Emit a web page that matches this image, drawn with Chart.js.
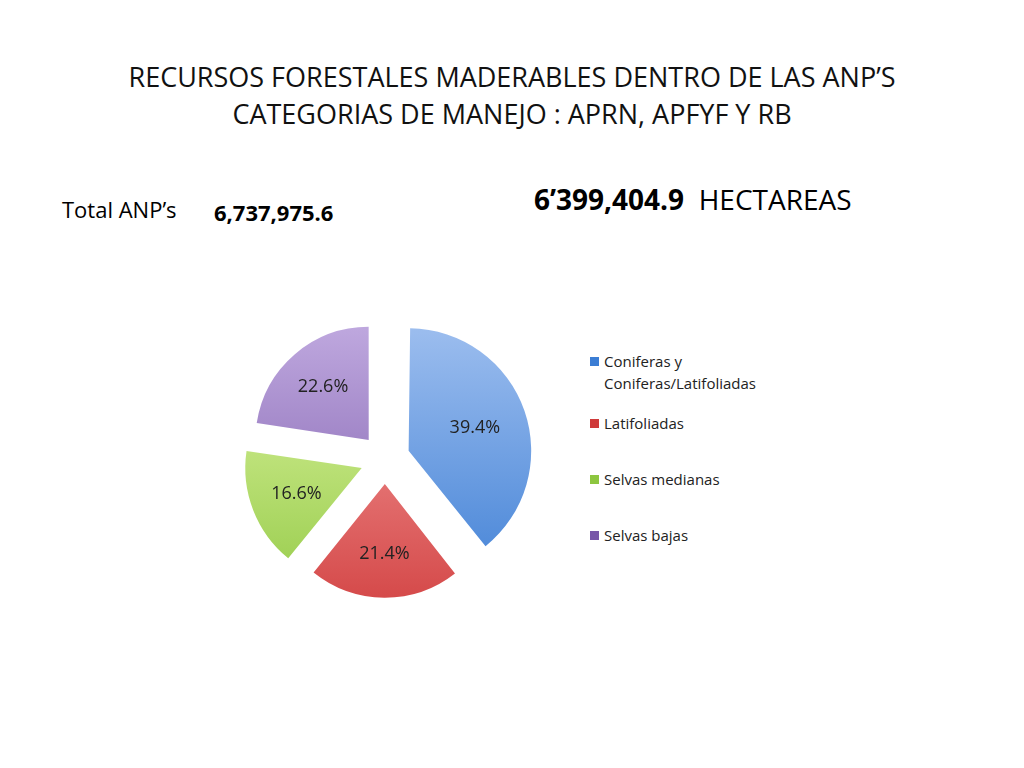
<!DOCTYPE html>
<html><head><meta charset="utf-8">
<script src="https://cdn.jsdelivr.net/npm/chart.js@4"></script>
<style>
body{margin:0;width:1024px;height:768px;background:#fff;font-family:"Open Sans","Liberation Sans",sans-serif;position:relative;overflow:hidden}
.t{position:absolute;white-space:nowrap}
#title{position:absolute;left:0;width:1024px;top:58px;text-align:center;font-size:27px;line-height:37px;color:#111}
#wrap{position:absolute;left:222px;top:296px;width:326px;height:326px}
#legend{position:absolute;left:590px;top:350px;font-size:15px;color:#222}
.li{position:relative;padding-left:14px;line-height:22px}
.sw{position:absolute;left:0;top:7px;width:9px;height:9px}
</style></head><body>
<div id="title">RECURSOS FORESTALES MADERABLES DENTRO DE LAS ANP’S<br>CATEGORIAS DE MANEJO : APRN, APFYF Y RB</div>
<div class="t" style="left:62px;top:194px;font-size:22px">Total ANP’s</div>
<div class="t" style="left:214px;top:197px;font-size:22px;font-weight:bold">6,737,975.6</div>
<div class="t" style="left:534px;top:180px;font-size:28px"><b>6’399,404.9</b>&nbsp; HECTAREAS</div>
<div id="wrap"><canvas id="c" width="326" height="326"></canvas></div>
<div id="legend"></div>
<script>
const categories=["Coniferas y Coniferas/Latifoliadas","Latifoliadas","Selvas medianas","Selvas bajas"];
const values=[39.4,21.4,16.6,22.6];
const lightColors=["#a9c6f2","#f7a5a5","#e6f9ab","#cbb6e8"];
const darkColors=["#3b7dd4","#cf3a3a","#8dc63f","#7857a8"];
const legendLabels=[["Coniferas y","Coniferas/Latifoliadas"],["Latifoliadas"],["Selvas medianas"],["Selvas bajas"]];
const lg=document.getElementById('legend');
const gaps=[0,18,34,34];
legendLabels.forEach((l,i)=>{const d=document.createElement('div');d.className='li';d.style.marginTop=gaps[i]+'px';
d.innerHTML='<span class="sw" style="background:'+darkColors[i]+'"></span>'+l.join('<br>');lg.appendChild(d);});
const labelPlugin={id:'lbl',afterDatasetsDraw(ch){const ctx=ch.ctx;ch.getDatasetMeta(0).data.forEach((a,i)=>{
const mid=(a.startAngle+a.endAngle)/2;const r=a.outerRadius*0.62;const off=a.options.offset/4;
const x=a.x+Math.cos(mid)*(r+off),y=a.y+Math.sin(mid)*(r+off);
ctx.save();ctx.fillStyle='#222';ctx.font='18px "Open Sans","Liberation Sans",sans-serif';ctx.textAlign='center';ctx.textBaseline='middle';
ctx.fillText(values[i].toFixed(1)+'%',x,y);ctx.restore();});}};
new Chart(document.getElementById('c'),{type:'pie',
data:{labels:categories,datasets:[{data:values,borderWidth:0,offset:100,
backgroundColor:(c)=>{const ch=c.chart,a=ch.chartArea;if(!a)return lightColors[c.dataIndex];
const g=ch.ctx.createLinearGradient(0,a.top,0,a.bottom);g.addColorStop(0,lightColors[c.dataIndex]);g.addColorStop(1,darkColors[c.dataIndex]);return g;}}]},
options:{responsive:false,animation:false,layout:{padding:0},plugins:{legend:{display:false},tooltip:{enabled:false}}},
plugins:[labelPlugin]});
</script></body></html>
